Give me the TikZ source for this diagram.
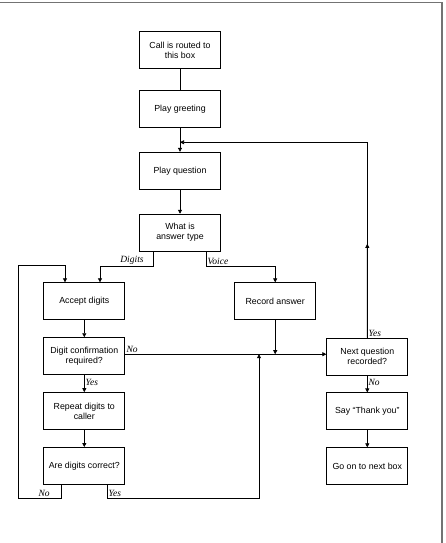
\documentclass[tikz,border=0pt]{standalone}
\usepackage{fontspec}
\setmainfont{Liberation Sans}
\newfontfamily\tagfont{Liberation Serif}
\usetikzlibrary{arrows.meta, positioning, calc}

\begin{document}
\begin{tikzpicture}[
  x=1pt, y=-1pt,
  block/.style = {draw, line width=0.9pt, minimum height=37pt, minimum width=81pt, align=center, inner sep=1pt, font=\fontsize{8.8}{10}\selectfont},
  arrow/.style = {line width=0.7pt, -{Triangle[length=4pt, width=4pt]}},
  link/.style = {line width=0.7pt},
  tag/.style = {font=\tagfont\itshape\fontsize{9.5}{10}\selectfont, inner sep=1pt},
  node distance=17pt and 109pt
]
  \useasboundingbox (0,0) rectangle (446,543);

  % page frame
  \draw[black!55, line width=1.2pt] (0,2.5) -- (442,2.5) -- (442,543);

  % main column
  \node[block] (call) at (180,50.3) {Call is routed to\\this box};
  \node[block, below=20.7pt of call] (greet) {Play greeting};
  \node[block, below=24pt of greet] (question) {Play question};
  \node[block, below=24pt of question] (anstype) {What is\\answer type};

  % digits branch
  \node[block] (accept) at (84.3,301.3) {Accept digits};
  \node[block, below=of accept] (confirm) {Digit confirmation\\required?};
  \node[block, below=of confirm] (repeat) {Repeat digits to\\caller};
  \node[block, below=of repeat] (correct) {Are digits correct?};

  % voice branch
  \node[block, right=of accept] (record) {Record answer};

  % next question column
  \node[block] (nextq) at (367.3,356.5) {Next question\\recorded?};
  \node[block, below=of nextq] (thanks) {Say “Thank you”};
  \node[block, below=of thanks] (goon) {Go on to next box};

  % call -> greeting -> question -> answer type
  \draw[link] (call.south) -- (greet.north);
  \draw[arrow] (greet.south) -- (question.north);
  \draw[arrow] (question.south) -- (anstype.north);

  % answer type split
  \draw[arrow] ([xshift=-26.7pt]anstype.south) -- ++(0,14.3)
    -| node[tag, above, pos=0.2] {Digits} ([xshift=15.7pt]accept.north);
  \draw[arrow] ([xshift=26.3pt]anstype.south) -- ++(0,14.3)
    -| node[tag, above right, pos=0] {Voice} (record.north);

  % digits path
  \draw[arrow] (accept.south) -- (confirm.north);
  \draw[arrow] (confirm.south) -- node[tag, right, pos=0.4] {Yes} (repeat.north);
  \draw[arrow] (repeat.south) -- (correct.north);

  % no confirmation -> next question
  \coordinate (nojoin) at ([yshift=2pt]confirm.east);
  \draw[arrow] (nojoin) -- node[tag, above right, pos=0] {No} (nextq.west |- nojoin);
  \draw[arrow] (record.south) -- (record.south |- nojoin);

  % digits wrong -> back to accept
  \draw[arrow] ([xshift=-23pt]correct.south) -- ++(0,13.4)
    -| node[tag, above, pos=0.2] {No} ++(-43,-233.4)
    -| ([xshift=-19.3pt]accept.north);

  % digits right -> next question
  \coordinate (yesjoin) at ($(record.south |- nojoin)+(-16.2,0)$);
  \draw[arrow] ([xshift=23pt]correct.south) -- ++(0,13.4)
    -| node[tag, above right, pos=0] {Yes} (yesjoin);

  % next question loop
  \coordinate (fbjoin) at ($(greet.south)!0.6!(question.north)$);
  \draw[arrow] (nextq.north) -- ($(nextq.north)!0.48!(nextq.north |- fbjoin)$);
  \draw[arrow] (nextq.north) |- node[tag, above right, pos=0] {Yes} (fbjoin);

  % finishing
  \draw[arrow] (nextq.south) -- node[tag, right, pos=0.4] {No} (thanks.north);
  \draw[arrow] (thanks.south) -- (goon.north);

\end{tikzpicture}
\end{document}
